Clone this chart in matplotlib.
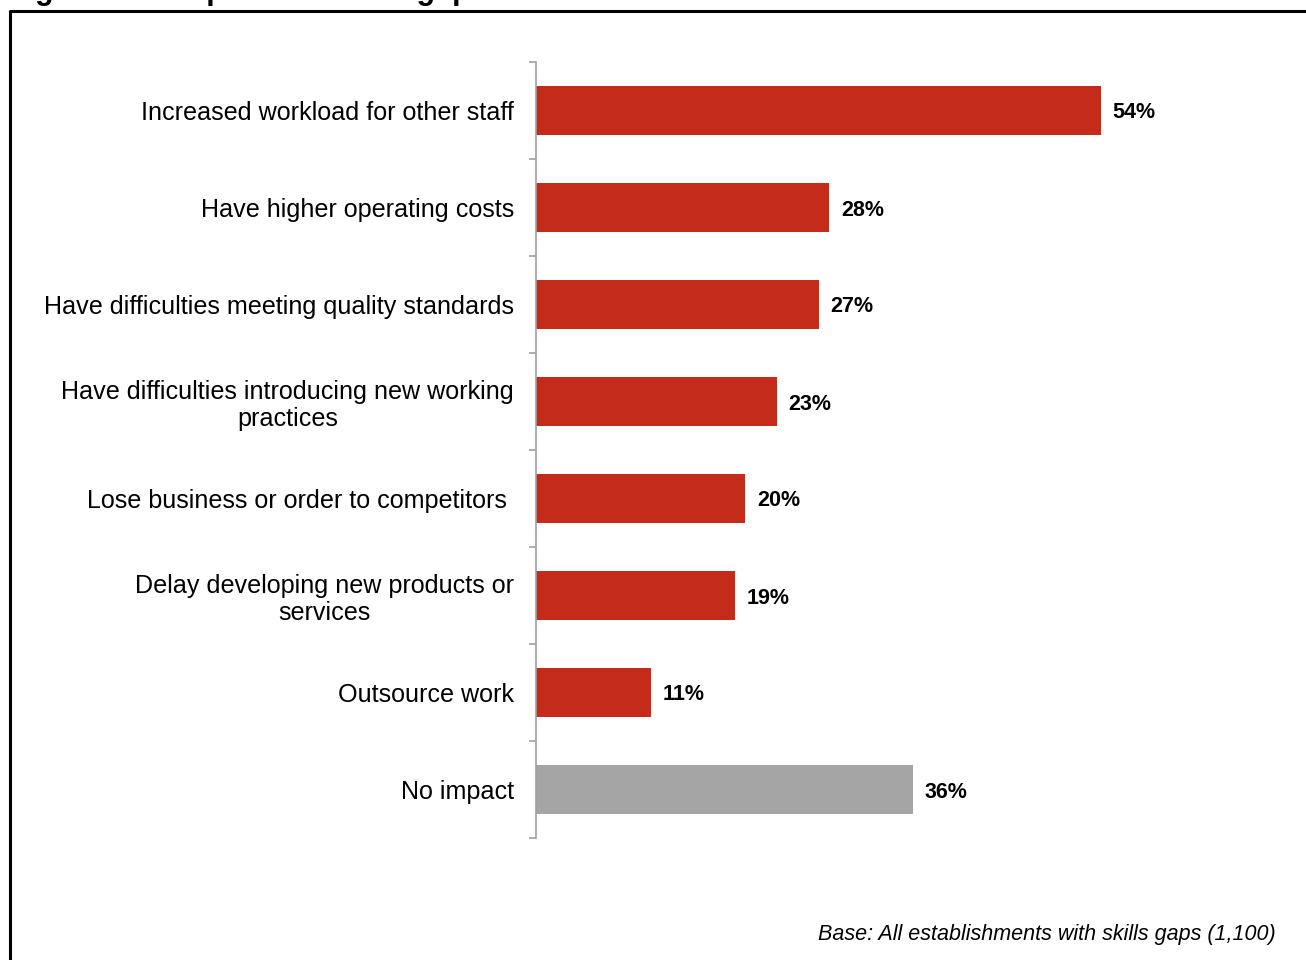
import matplotlib
matplotlib.use("Agg")
import matplotlib.pyplot as plt
from matplotlib.lines import Line2D

plt.rcParams['font.family'] = ['Liberation Sans', 'DejaVu Sans']

categories = [
    "Increased workload for other staff",
    "Have higher operating costs",
    "Have difficulties meeting quality standards",
    "Have difficulties introducing new working\npractices",
    "Lose business or order to competitors ",
    "Delay developing new products or\nservices",
    "Outsource work",
    "No impact",
]
values = [54, 28, 27, 23, 20, 19, 11, 36]
colours = ["#C42B1A"] * 7 + ["#A5A5A5"]

title = "Figure 6.4: Impacts of skills gaps"
base_note = "Base: All establishments with skills gaps (1,100)"

W, H = 1306, 960
fig = plt.figure(figsize=(W / 100, H / 100), dpi=100)

# plot area in pixels: axis at x=536, categories between y=62 and y=838
px_per_pct = 565 / 54
xmax = 70
ax = fig.add_axes([536 / W, 1 - 838 / H, xmax * px_per_pct / W, 776 / H])

pos = list(range(len(categories)))
ax.barh(pos, values, height=0.5, color=colours)
ax.set_xlim(0, xmax)
ax.set_ylim(len(categories) - 0.5, -0.5)

for y, v in zip(pos, values):
    ax.annotate(f"{v}%", xy=(v, y), xytext=(8.5, 0), textcoords="offset points",
                ha="left", va="center_baseline", fontsize=15.5, fontweight="bold")

ax.set_yticks(pos)
ax.set_yticklabels(categories, fontsize=18.1, multialignment="center", linespacing=1.17)
ax.set_yticks([p - 0.5 for p in pos] + [len(pos) - 0.5], minor=True)
ax.tick_params(axis="y", which="major", length=0, pad=16)
ax.tick_params(axis="y", which="minor", length=5, width=1.2, color="#A0A0A0")
ax.set_xticks([])

for side in ["top", "right", "bottom"]:
    ax.spines[side].set_visible(False)
ax.spines["left"].set_color("#A0A0A0")
ax.spines["left"].set_linewidth(1.2)

# outer frame, open to the right and bottom edges
x0 = 10 / W
y0 = 1 - 11 / H
fig.add_artist(Line2D([x0, x0, 1.01], [-0.01, y0, y0], color="black", linewidth=2.2,
                      transform=fig.transFigure))

fig.text(0.006, 1 + 1 / H, title, ha="left", va="baseline", fontsize=22, fontweight="bold")
fig.text(1276 / W, 1 - 940 / H, base_note, ha="right", va="baseline",
         fontsize=15.5, fontstyle="italic")

fig.savefig("out.png", dpi=100)
